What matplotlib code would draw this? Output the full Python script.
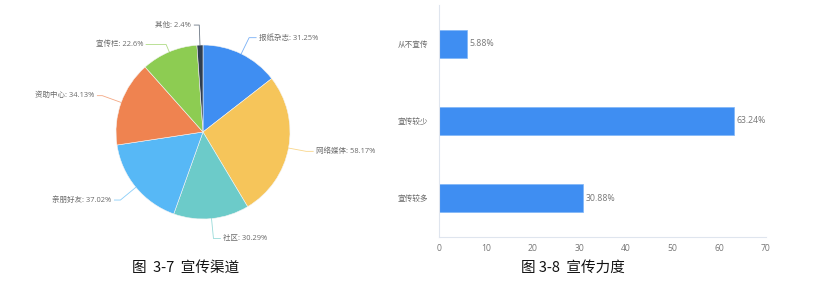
import numpy as np
import matplotlib
matplotlib.use("Agg")
import matplotlib.pyplot as plt

plt.rcParams['font.family'] = ['Noto Sans CJK SC', 'DejaVu Sans']
LABEL_FONT = ['Open Sans', 'Noto Sans CJK SC', 'DejaVu Sans']

# Publicity channels (pie)
channels = ['报纸杂志', '网络媒体', '社区', '亲朋好友', '资助中心', '宣传栏', '其他']
channel_pct = [31.25, 58.17, 30.29, 37.02, 34.13, 22.6, 2.4]
channel_colors = ['#3f8ef2', '#f6c55a', '#6ccbc9', '#57b8f6', '#ef8350', '#8dcc52', '#2f3e50']

# Publicity intensity (horizontal bars)
levels = ['从不宣传', '宣传较少', '宣传较多']
level_pct = [5.88, 63.24, 30.88]
x_ticks = [0, 10, 20, 30, 40, 50, 60, 70]

W, H = 828, 282
fig = plt.figure(figsize=(W / 100, H / 100), dpi=100)
fig.patch.set_facecolor('white')

# ---- pie: axes in pixel units (y up) ----
axp = fig.add_axes([0, 0, 0.5, 1])
cx, cy, r = 203, H - 132, 87
wedges, _ = axp.pie(channel_pct, colors=channel_colors, startangle=90, counterclock=False,
                    center=(cx, cy), radius=r, frame=True,
                    wedgeprops=dict(linewidth=0.4, edgecolor='#f4f4f4'))
axp.set_xlim(0, W / 2)
axp.set_ylim(0, H)
axp.set_aspect('equal')
axp.axis('off')

# leader line lengths (radial, horizontal) per label
leader = [(18, 7), (18, 7), (20, 7), (20, 6), (20, 5), (8, 20), (20, 5)]
for w, name, v, col, (lr, lh) in zip(wedges, channels, channel_pct, channel_colors, leader):
    mid = np.deg2rad((w.theta1 + w.theta2) / 2)
    ux, uy = np.cos(mid), np.sin(mid)
    p0 = (cx + r * ux, cy + r * uy)
    p1 = (cx + (r + lr) * ux, cy + (r + lr) * uy)
    side = 1 if ux >= 0 else -1
    p2 = (p1[0] + side * lh, p1[1])
    axp.plot([p0[0], p1[0], p2[0]], [p0[1], p1[1], p2[1]], color=col, lw=0.6, alpha=0.7)
    axp.text(p2[0] + side * 3, p2[1], f'{name}: {v:g}%', fontsize=5.4, color='#6a6a6a',
             family=LABEL_FONT, ha='left' if side > 0 else 'right', va='center')

# ---- bar chart ----
axb = fig.add_axes([439.3 / W, 1 - 236.7 / H, 326.4 / W, (236.7 - 5) / H])
ypos = np.arange(len(levels))
axb.barh(ypos, level_pct, height=0.36, color='#3f8ef2', edgecolor='#7fb6f7', linewidth=0.5)
for y, v in zip(ypos, level_pct):
    axb.text(v + 0.6, y, f'{v:.2f}%', fontsize=6.3, color='#777777', family=LABEL_FONT,
             va='center', ha='left')
axb.set_yticks(ypos)
axb.set_yticklabels(levels, fontsize=5.5, color='#666666')
axb.set_ylim(2.5, -0.5)
axb.set_xlim(0, 70)
axb.set_xticks(x_ticks)
axb.set_xticklabels([str(t) for t in x_ticks], fontsize=6.2, color='#777777', family=LABEL_FONT)
axb.tick_params(axis='x', length=0, pad=5)
axb.tick_params(axis='y', length=0, pad=8)
for s in ['top', 'right']:
    axb.spines[s].set_visible(False)
for s in ['left', 'bottom']:
    axb.spines[s].set_color('#dfe5ee')
    axb.spines[s].set_linewidth(0.8)

# ---- captions ----
fig.text(186 / W, 1 - 268 / H, '图  3-7  宣传渠道', fontsize=10.5, color='#111111',
         ha='center', va='center')
fig.text(573 / W, 1 - 268 / H, '图 3-8  宣传力度', fontsize=10.5, color='#111111',
         ha='center', va='center')

fig.savefig('out.png', dpi=100, facecolor='white')
